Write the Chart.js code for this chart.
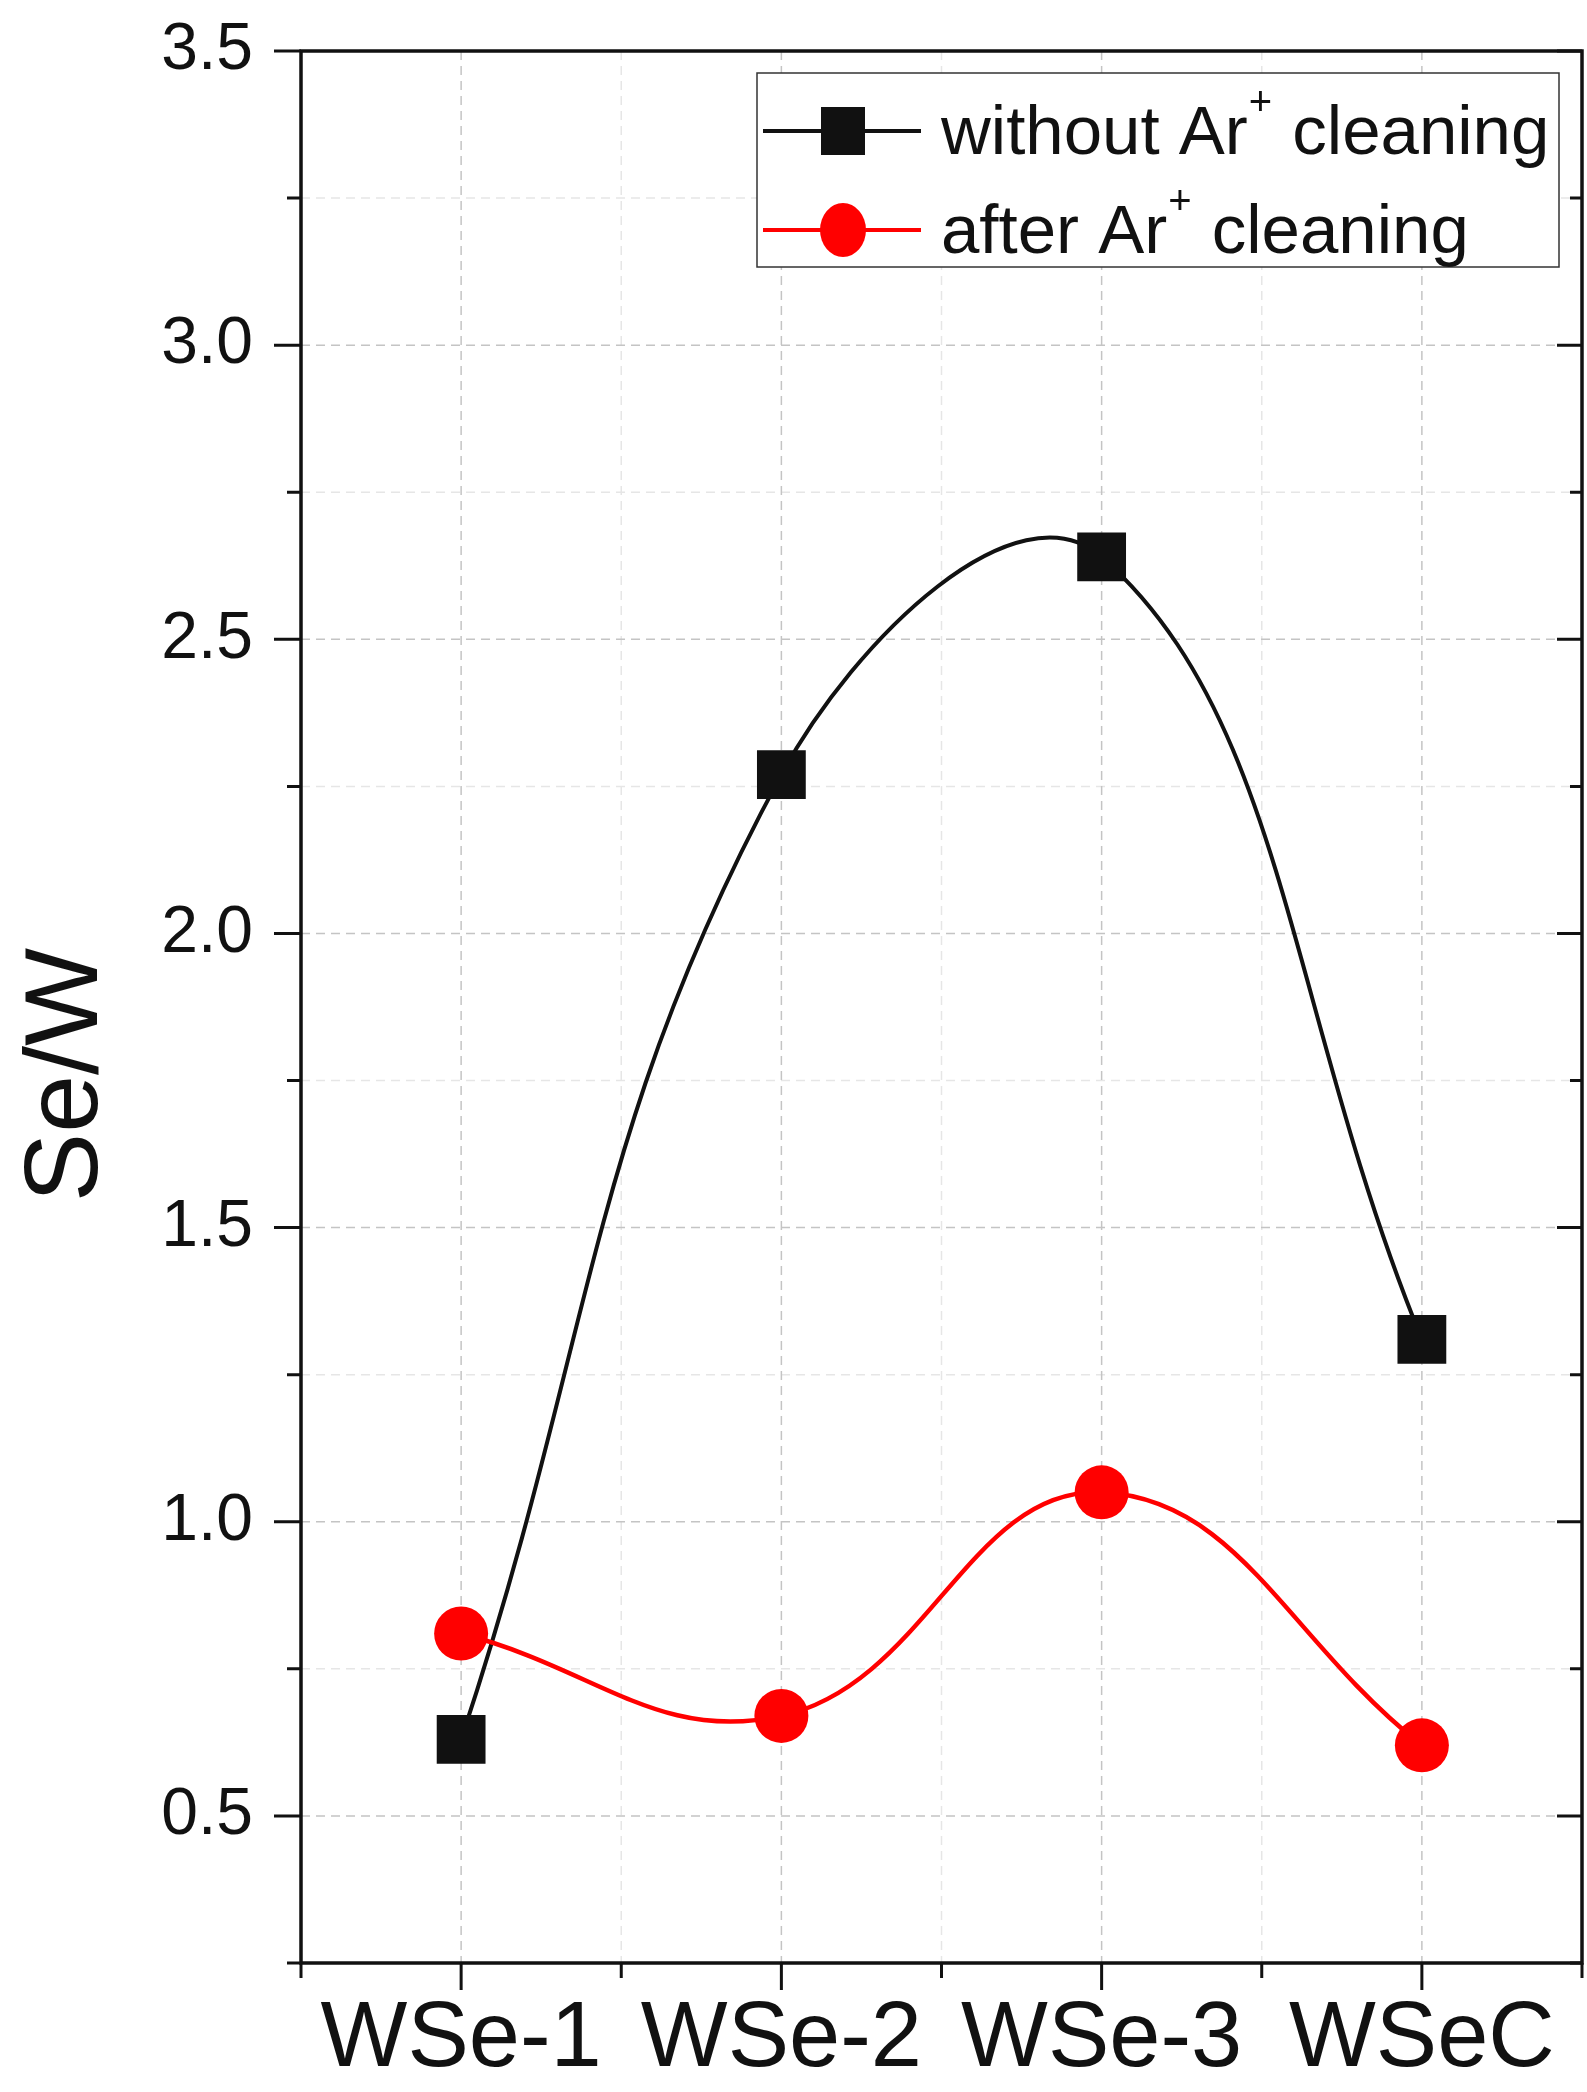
<!DOCTYPE html>
<html>
<head>
<meta charset="utf-8">
<script src="https://cdn.jsdelivr.net/npm/chart.js@4.4.1/dist/chart.umd.min.js"></script>
<style>
  html, body { margin: 0; padding: 0; background: #fff; overflow: hidden; }
  #chart { display: block; }
</style>
</head>
<body>
<canvas id="chart" width="1587" height="2092"></canvas>
<script>
// --- data ---
const categories = ['WSe-1', 'WSe-2', 'WSe-3', 'WSeC'];
const withoutAr = [0.63, 2.27, 2.64, 1.31];
const afterAr = [0.81, 0.67, 1.05, 0.62];
const yTicks = [0.5, 1.0, 1.5, 2.0, 2.5, 3.0, 3.5];
const yMinorTicks = [0.25, 0.75, 1.25, 1.75, 2.25, 2.75, 3.25];
const xMinorTicks = [0.5, 1.5, 2.5, 3.5, 4.5];
const yTitle = 'Se/W';
// legend label parts: [before superscript, superscript, after]
const labelWithout = ['without Ar', '+', ' cleaning'];
const labelAfter = ['after Ar', '+', ' cleaning'];

const FONT = '"Liberation Sans", Arial, sans-serif';

function toPoints(values) {
    return values.map((v, i) => ({ x: i + 1, y: v }));
}

// grid, frame, ticks, title and legend (Origin-like look)
const originLook = {
    id: 'originLook',
    beforeDatasetsDraw(chart) {
        const { ctx, chartArea: a, scales: { x, y } } = chart;
        ctx.save();
        ctx.lineWidth = 1.5;
        ctx.setLineDash([9, 6]);
        // minor grid, faint
        ctx.strokeStyle = '#e6e6e6';
        xMinorTicks.forEach(v => {
            const px = x.getPixelForValue(v);
            if (px <= a.left + 2 || px >= a.right - 2) return;
            ctx.beginPath(); ctx.moveTo(px, a.top); ctx.lineTo(px, a.bottom); ctx.stroke();
        });
        yMinorTicks.forEach(v => {
            const py = y.getPixelForValue(v);
            if (py >= a.bottom - 2) return;
            ctx.beginPath(); ctx.moveTo(a.left, py); ctx.lineTo(a.right, py); ctx.stroke();
        });
        // major grid
        ctx.strokeStyle = '#c4c4c4';
        categories.forEach((c, i) => {
            const px = x.getPixelForValue(i + 1);
            ctx.beginPath(); ctx.moveTo(px, a.top); ctx.lineTo(px, a.bottom); ctx.stroke();
        });
        yTicks.forEach(v => {
            const py = y.getPixelForValue(v);
            if (py <= a.top + 2) return;
            ctx.beginPath(); ctx.moveTo(a.left, py); ctx.lineTo(a.right, py); ctx.stroke();
        });
        ctx.restore();
    },
    afterDatasetsDraw(chart) {
        const { ctx, chartArea: a, scales: { x, y } } = chart;
        ctx.save();
        ctx.strokeStyle = '#111';
        ctx.lineWidth = 3.5;
        ctx.setLineDash([]);
        ctx.strokeRect(a.left, a.top, a.right - a.left, a.bottom - a.top);
        ctx.lineWidth = 3;
        ctx.beginPath();
        yTicks.forEach(v => {
            const py = y.getPixelForValue(v);
            ctx.moveTo(a.left - 27, py); ctx.lineTo(a.left, py);
            ctx.moveTo(a.right - 25, py); ctx.lineTo(a.right, py);
        });
        yMinorTicks.forEach(v => {
            const py = y.getPixelForValue(v);
            ctx.moveTo(a.left - 14, py); ctx.lineTo(a.left, py);
            ctx.moveTo(a.right - 12, py); ctx.lineTo(a.right, py);
        });
        categories.forEach((c, i) => {
            const px = x.getPixelForValue(i + 1);
            ctx.moveTo(px, a.bottom); ctx.lineTo(px, a.bottom + 27);
        });
        xMinorTicks.forEach(v => {
            const px = x.getPixelForValue(v);
            ctx.moveTo(px, a.bottom); ctx.lineTo(px, a.bottom + 15);
        });
        ctx.stroke();
        ctx.restore();
    },
    afterDraw(chart) {
        const { ctx } = chart;
        const ds = chart.data.datasets;
        ctx.save();
        // y axis title
        ctx.fillStyle = '#111';
        ctx.font = '104px ' + FONT;
        ctx.textAlign = 'center';
        ctx.textBaseline = 'middle';
        ctx.translate(68, 1075);
        ctx.rotate(-Math.PI / 2);
        ctx.fillText(yTitle, 0, 0);
        ctx.restore();

        // legend box
        ctx.save();
        const box = { l: 757, t: 73, r: 1559, b: 267 };
        ctx.fillStyle = '#fff';
        ctx.fillRect(box.l, box.t, box.r - box.l, box.b - box.t);
        ctx.strokeStyle = '#333';
        ctx.lineWidth = 1.5;
        ctx.strokeRect(box.l, box.t, box.r - box.l, box.b - box.t);
        const rows = [
            { yc: 131, parts: labelWithout, d: ds[0] },
            { yc: 230, parts: labelAfter, d: ds[1] }
        ];
        rows.forEach(row => {
            ctx.strokeStyle = row.d.borderColor;
            ctx.lineWidth = 4;
            ctx.beginPath(); ctx.moveTo(763, row.yc); ctx.lineTo(921, row.yc); ctx.stroke();
            ctx.fillStyle = row.d.pointBackgroundColor;
            if (row.d.pointStyle === 'rect') {
                ctx.fillRect(843 - 22, row.yc - 24, 44, 48);
            } else {
                ctx.beginPath(); ctx.ellipse(843, row.yc, 23, 27, 0, 0, Math.PI * 2); ctx.fill();
            }
            ctx.fillStyle = '#111';
            ctx.textAlign = 'left';
            ctx.textBaseline = 'middle';
            ctx.font = '69px ' + FONT;
            let tx = 941;
            ctx.fillText(row.parts[0], tx, row.yc + 4);
            tx += ctx.measureText(row.parts[0]).width;
            ctx.font = '40px ' + FONT;
            ctx.fillText(row.parts[1], tx + 1, row.yc - 27);
            tx += ctx.measureText(row.parts[1]).width + 2;
            ctx.font = '69px ' + FONT;
            ctx.fillText(row.parts[2], tx, row.yc + 4);
        });
        ctx.restore();
    }
};

new Chart(document.getElementById('chart'), {
    type: 'line',
    data: {
        datasets: [
            {
                label: labelWithout.join(''),
                data: toPoints(withoutAr),
                borderColor: '#111',
                borderWidth: 4,
                pointStyle: 'rect',
                pointRadius: 34.5,
                pointBorderWidth: 0,
                pointBackgroundColor: '#111',
                tension: 0.42,
                order: 2
            },
            {
                label: labelAfter.join(''),
                data: toPoints(afterAr),
                borderColor: '#ff0000',
                borderWidth: 4.5,
                pointStyle: 'circle',
                pointRadius: 27,
                pointBorderWidth: 0,
                pointBackgroundColor: '#ff0000',
                tension: 0.42,
                order: 1
            }
        ]
    },
    options: {
        responsive: false,
        animation: false,
        layout: { autoPadding: false, padding: { top: 51, right: 5, left: 0, bottom: 0 } },
        plugins: {
            legend: { display: false },
            tooltip: { enabled: false },
            title: { display: false }
        },
        scales: {
            x: {
                type: 'linear',
                min: 0.5,
                max: 4.5,
                afterBuildTicks: s => { s.ticks = categories.map((c, i) => ({ value: i + 1 })); },
                afterFit: s => {
                    s.height = 129;
                    s.paddingLeft = 0; s.paddingRight = 0;
                    s.paddingTop = 0; s.paddingBottom = 0;
                },
                grid: { display: false, drawTicks: false },
                border: { display: false },
                ticks: {
                    autoSkip: false,
                    maxRotation: 0,
                    padding: 22,
                    color: '#111',
                    font: { family: FONT, size: 92 },
                    callback: v => categories[Math.round(v) - 1]
                }
            },
            y: {
                type: 'linear',
                min: 0.25,
                max: 3.5,
                afterBuildTicks: s => { s.ticks = yTicks.map(v => ({ value: v })); },
                afterFit: s => {
                    s.width = 301;
                    s.paddingLeft = 0; s.paddingRight = 0;
                    s.paddingTop = 0; s.paddingBottom = 0;
                },
                grid: { display: false, drawTicks: false },
                border: { display: false },
                ticks: {
                    padding: 48,
                    color: '#111',
                    font: { family: FONT, size: 66 },
                    callback: v => v.toFixed(1)
                }
            }
        }
    },
    plugins: [originLook]
});
</script>
</body>
</html>
